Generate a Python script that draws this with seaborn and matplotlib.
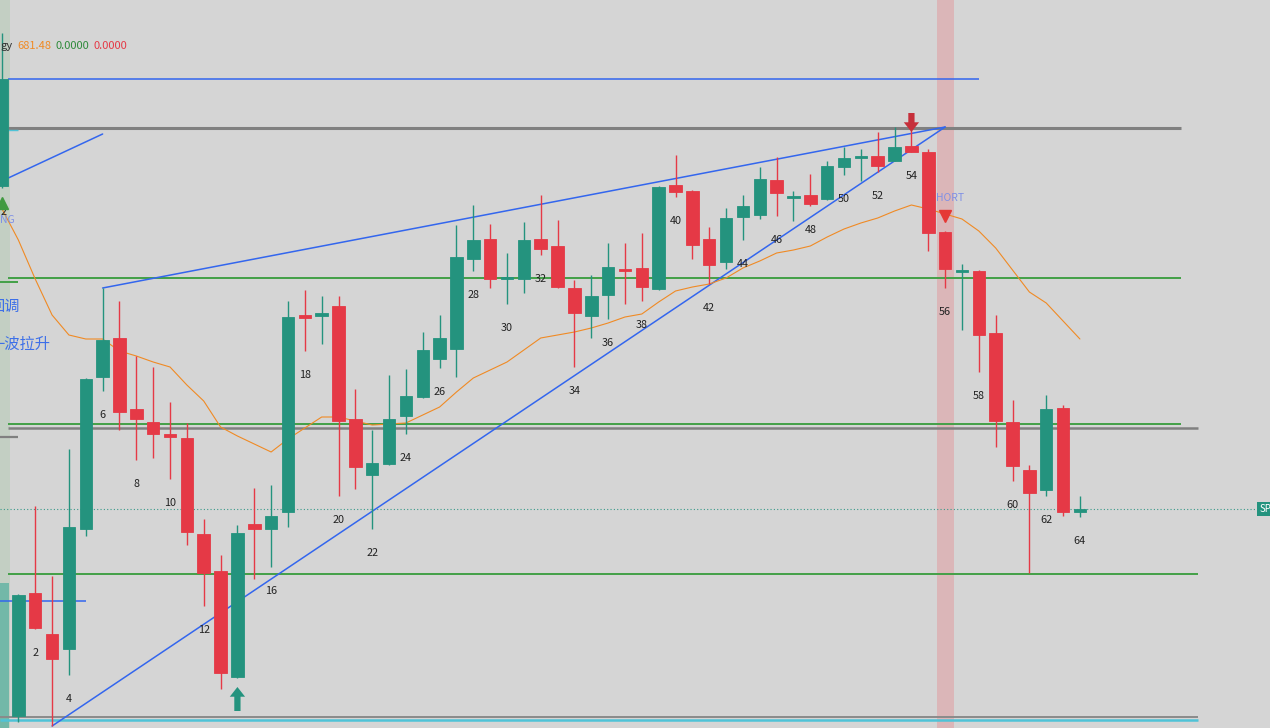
import numpy as np
import pandas as pd
import seaborn as sns
import matplotlib.pyplot as plt

# candles, bar index 0..64
opens = [542, 12, 135, 94, 79, 199, 351, 390, 319, 306, 294, 290, 194, 157, 51, 204, 199, 216, 413, 412,
         422, 309, 253, 264, 312, 331, 369, 379, 469, 489, 449, 449, 489, 482, 440, 412, 433, 459, 460, 439,
         543, 537, 489, 466, 511, 513, 548, 530.5, 533, 529, 561, 570.5, 572, 567, 582, 576, 496, 456.5, 457, 395,
         306, 258, 238, 320, 216]
highs = [695, 134, 222, 152, 279, 350, 440, 427, 372, 361, 326, 305, 209, 173, 203, 240, 243, 427, 438, 432,
         432, 339, 298, 353, 359, 396, 413, 503, 523, 504, 475, 506, 533, 508, 448, 453, 485, 485, 495, 542,
         573, 538, 501, 520, 533, 561, 571, 537, 554, 567, 581, 579, 596, 601, 598, 579, 497, 464, 458, 413,
         328, 263, 333, 323, 232]
lows = [540, 6, 99, 2, 53, 192, 337, 298, 268, 270, 249, 183, 122, 39, 50, 149, 161, 201, 377, 384,
        232, 239, 199, 263, 294, 330, 360, 351, 457, 440, 424, 435, 473, 440, 361, 390, 409, 424, 427, 438,
        531, 469, 444, 459, 488, 509, 512, 507, 522, 528, 553, 547, 556, 567, 576, 477, 440, 398, 356, 281,
        247, 155, 232, 212, 211]
closes = [649, 133, 100, 69, 201, 349, 388, 316, 309, 294, 291, 196, 155, 55, 195, 199, 212, 411, 410, 415,
          307, 261, 265, 309, 332, 378, 390, 471, 488, 449, 451, 488, 479, 441, 415, 432, 461, 457, 441, 541,
          536, 483, 463, 510, 522, 549, 535, 531.5, 524, 562, 570, 571.5, 562, 581, 576, 495, 459, 457.5, 393, 307,
          262, 235, 319, 216, 219]
ma_values = [520, 488, 449, 413, 393, 389, 389, 377, 372, 366, 361, 343, 327, 301, 292, 284, 276, 289, 300, 311,
             311, 307, 303, 304, 305, 313, 321, 336, 350, 358, 366, 378, 390, 393, 396, 400, 405, 411, 414, 426,
             437, 441, 444, 450, 460, 467, 475, 478, 482, 491, 499, 505, 510, 517, 523, 519, 514, 509, 497, 480,
             458, 436, 425, 407, 389]

label_bars = [0, 2, 4, 6, 8, 10, 12, 16, 18, 20, 22, 24, 26, 28, 30, 32, 34, 36, 38, 40,
              42, 44, 46, 48, 50, 52, 54, 56, 58, 60, 62, 64]
label_texts = ['2', '2', '4', '6', '8', '10', '12', '16', '18', '20', '22', '24', '26', '28', '30', '32', '34',
               '36', '38', '40', '42', '44', '46', '48', '50', '52', '54', '56', '58', '60', '62', '64']

# horizontal levels: price, start bar, end bar
level_prices = [649, 600, 450, 304, 300, 154, 11, 8, 127]
level_starts = [0.4, 0.4, 0.4, 0.4, 0.4, 0.4, -0.1, -0.1, -0.1]
level_ends = [58, 70, 70, 70, 71, 71, 71, 71, 5]
level_colors = ['#3366ee', '#808080', '#43a047', '#43a047', '#808080', '#43a047', '#8a8a8a', '#4fc3d7', '#3366ee']
level_widths = [1.1, 2.2, 1.4, 1.4, 1.8, 1.4, 1.4, 1.8, 1.1]

# trend lines (bar, price)
upper_tl_x, upper_tl_y = [6, 56], [440, 601]
lower_tl_x, lower_tl_y = [3, 56], [2, 601]
left_tl_x, left_tl_y = [0.4, 6], [550, 594]

last_price = closes[-1]

bg = '#d5d5d5'
up_col = '#24937e'
dn_col = '#e53946'

sns.set_theme(style='white')
plt.rcParams['font.family'] = ['Noto Sans CJK SC', 'DejaVu Sans']

fig = plt.figure(figsize=(12.7, 7.28), dpi=100)
fig.patch.set_facecolor(bg)
ax = fig.add_axes([0, 0, 1, 1])
ax.set_axis_off()
ax.set_xlim(-0.09, 75.28)
ax.set_ylim(0, 728)

df = pd.DataFrame({'bar': np.arange(len(opens)), 'open': opens, 'high': highs,
                   'low': lows, 'close': closes, 'ma': ma_values})

# shaded signal columns
ax.axvspan(55.5, 56.5, color='#dbb6b8', lw=0, zorder=0)
ax.axvspan(-0.2, 0.5, color='#c3cfc3', lw=0, zorder=0)
ax.fill_between([-0.2, 0.45], 0, 145, color='#72b8a8', lw=0, zorder=0.5)

for p, s, e, c, w in zip(level_prices, level_starts, level_ends, level_colors, level_widths):
    ax.hlines(p, s, e, colors=c, lw=w, zorder=1)
ax.hlines(446, -0.1, 1.0, colors='#43a047', lw=1.4, zorder=1)
ax.hlines(291, -0.1, 1.0, colors='#808080', lw=1.6, zorder=1)
ax.hlines(598, 0.35, 1.0, colors='#4fc3d7', lw=1.0, zorder=1)
ax.hlines(last_price, -0.1, 74.6, colors='#3a9a8a', lw=0.8, linestyles=(0, (1, 2)), zorder=1)

for tx, ty in [(upper_tl_x, upper_tl_y), (lower_tl_x, lower_tl_y), (left_tl_x, left_tl_y)]:
    ax.plot(tx, ty, color='#3366ee', lw=1.1, zorder=2)

sns.lineplot(data=df, x='bar', y='ma', ax=ax, color='#f08a24', lw=0.8, zorder=2)

# candles
for r in df.itertuples():
    col = up_col if r.close >= r.open else dn_col
    ax.vlines(r.bar, r.low, r.high, colors=col, lw=1.0, zorder=3)
    lo = min(r.open, r.close)
    h = max(abs(r.close - r.open), 2.5)
    ax.bar(r.bar, h, bottom=lo - (h - abs(r.close - r.open)) / 2, width=0.74, color=col,
           edgecolor=col, lw=0.6, alpha=1, zorder=4)

for b, t in zip(label_bars, label_texts):
    dx = 2.5 if b == 0 else 0
    ax.annotate(t, (b, lows[b]), xytext=(dx, -24), textcoords='offset pixels', ha='center', va='center',
                fontsize=7.8, color='#222222', zorder=5)

# signal markers
ax.annotate('', xy=(14, 41), xytext=(14, 17),
            arrowprops=dict(facecolor=up_col, edgecolor='none', width=4.5, headwidth=11, headlength=7))
ax.annotate('', xy=(54, 596), xytext=(54, 615),
            arrowprops=dict(facecolor='#c62f3a', edgecolor='none', width=4.5, headwidth=11, headlength=7))
ax.plot([56], [512], marker='v', ms=8.5, color='#e53935', zorder=5)
ax.plot([0.05], [525], marker='^', ms=8.5, color='#3f9a3f', zorder=5)
ax.text(55.45, 530, 'HORT', fontsize=7.5, color='#7f90e6', ha='left', va='center')
ax.text(-0.08, 508, 'NG', fontsize=7.5, color='#7f90e6', ha='left', va='center')

# header
ax.text(0.0, 0.937, 'gy', transform=ax.transAxes, fontsize=8, color='#333333', va='center')
ax.text(0.014, 0.937, '681.48', transform=ax.transAxes, fontsize=8, color='#f08a24', va='center')
ax.text(0.044, 0.937, '0.0000', transform=ax.transAxes, fontsize=8, color='#2e8b3a', va='center')
ax.text(0.074, 0.937, '0.0000', transform=ax.transAxes, fontsize=8, color='#e53946', va='center')

# annotations in Chinese (cut at the left edge, as in the source screenshot)
ax.text(1.1, 422, '回调', fontsize=11, color='#3d6fe8', ha='right', va='center')
ax.text(2.9, 384, '一波拉升', fontsize=11, color='#3d6fe8', ha='right', va='center')

# last price tag
ax.text(74.65, last_price, 'SP', fontsize=7, color='white', ha='left', va='center',
        bbox=dict(boxstyle='square,pad=0.25', fc='#24937e', ec='none'))

fig.savefig('out.png', dpi=100, facecolor=bg)
